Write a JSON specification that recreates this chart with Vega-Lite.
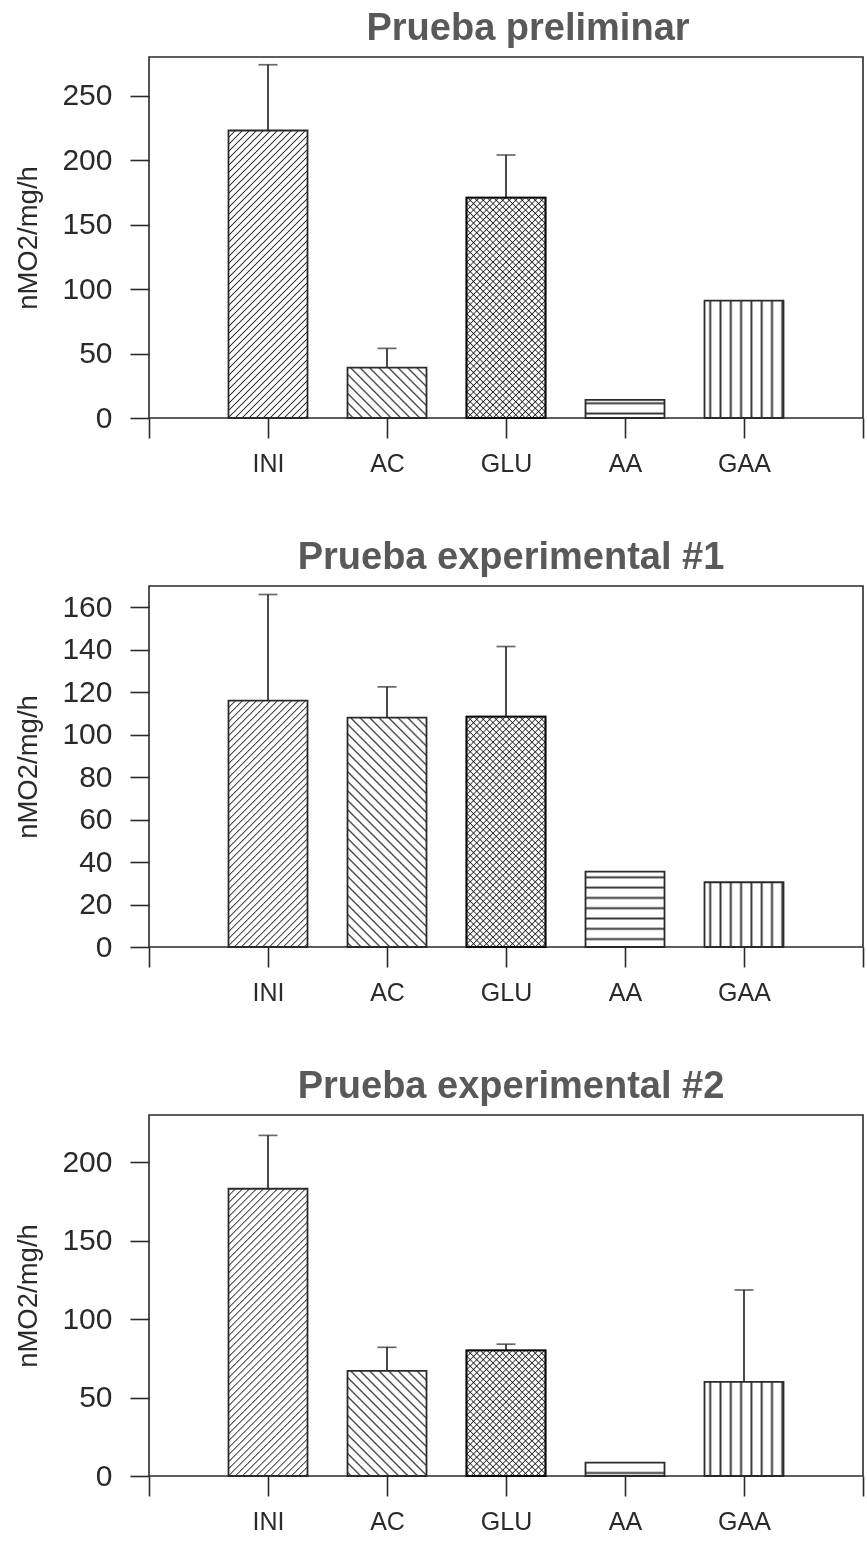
{
  "$schema": "https://vega.github.io/schema/vega-lite/v6.json",
  "background": "white",
  "padding": {"left": 14, "top": 9, "right": 0, "bottom": 0},
  "spacing": 61,
  "params": [
    {
      "name": "hatch",
      "value": [
        {"offset":0,"color":"#fff"},
        {"offset":0.013,"color":"#fff"},{"offset":0.016,"color":"#333"},{"offset":0.019,"color":"#fff"},
        {"offset":0.029,"color":"#fff"},{"offset":0.032,"color":"#333"},{"offset":0.035,"color":"#fff"},
        {"offset":0.045,"color":"#fff"},{"offset":0.048,"color":"#333"},{"offset":0.051,"color":"#fff"},
        {"offset":0.061,"color":"#fff"},{"offset":0.064,"color":"#333"},{"offset":0.067,"color":"#fff"},
        {"offset":0.077,"color":"#fff"},{"offset":0.080,"color":"#333"},{"offset":0.083,"color":"#fff"},
        {"offset":0.093,"color":"#fff"},{"offset":0.096,"color":"#333"},{"offset":0.099,"color":"#fff"},
        {"offset":0.109,"color":"#fff"},{"offset":0.112,"color":"#333"},{"offset":0.115,"color":"#fff"},
        {"offset":0.125,"color":"#fff"},{"offset":0.128,"color":"#333"},{"offset":0.131,"color":"#fff"},
        {"offset":0.141,"color":"#fff"},{"offset":0.144,"color":"#333"},{"offset":0.147,"color":"#fff"},
        {"offset":0.157,"color":"#fff"},{"offset":0.160,"color":"#333"},{"offset":0.163,"color":"#fff"},
        {"offset":0.173,"color":"#fff"},{"offset":0.176,"color":"#333"},{"offset":0.179,"color":"#fff"},
        {"offset":0.189,"color":"#fff"},{"offset":0.192,"color":"#333"},{"offset":0.195,"color":"#fff"},
        {"offset":0.205,"color":"#fff"},{"offset":0.208,"color":"#333"},{"offset":0.211,"color":"#fff"},
        {"offset":0.221,"color":"#fff"},{"offset":0.224,"color":"#333"},{"offset":0.227,"color":"#fff"},
        {"offset":0.237,"color":"#fff"},{"offset":0.240,"color":"#333"},{"offset":0.243,"color":"#fff"},
        {"offset":0.253,"color":"#fff"},{"offset":0.256,"color":"#333"},{"offset":0.259,"color":"#fff"},
        {"offset":0.269,"color":"#fff"},{"offset":0.272,"color":"#333"},{"offset":0.275,"color":"#fff"},
        {"offset":0.285,"color":"#fff"},{"offset":0.288,"color":"#333"},{"offset":0.291,"color":"#fff"},
        {"offset":0.301,"color":"#fff"},{"offset":0.304,"color":"#333"},{"offset":0.307,"color":"#fff"},
        {"offset":0.317,"color":"#fff"},{"offset":0.320,"color":"#333"},{"offset":0.323,"color":"#fff"},
        {"offset":0.333,"color":"#fff"},{"offset":0.336,"color":"#333"},{"offset":0.339,"color":"#fff"},
        {"offset":0.349,"color":"#fff"},{"offset":0.352,"color":"#333"},{"offset":0.355,"color":"#fff"},
        {"offset":0.365,"color":"#fff"},{"offset":0.368,"color":"#333"},{"offset":0.371,"color":"#fff"},
        {"offset":0.381,"color":"#fff"},{"offset":0.384,"color":"#333"},{"offset":0.387,"color":"#fff"},
        {"offset":0.397,"color":"#fff"},{"offset":0.400,"color":"#333"},{"offset":0.403,"color":"#fff"},
        {"offset":0.413,"color":"#fff"},{"offset":0.416,"color":"#333"},{"offset":0.419,"color":"#fff"},
        {"offset":0.429,"color":"#fff"},{"offset":0.432,"color":"#333"},{"offset":0.435,"color":"#fff"},
        {"offset":0.445,"color":"#fff"},{"offset":0.448,"color":"#333"},{"offset":0.451,"color":"#fff"},
        {"offset":0.461,"color":"#fff"},{"offset":0.464,"color":"#333"},{"offset":0.467,"color":"#fff"},
        {"offset":0.477,"color":"#fff"},{"offset":0.480,"color":"#333"},{"offset":0.483,"color":"#fff"},
        {"offset":0.493,"color":"#fff"},{"offset":0.496,"color":"#333"},{"offset":0.499,"color":"#fff"},
        {"offset":0.509,"color":"#fff"},{"offset":0.512,"color":"#333"},{"offset":0.515,"color":"#fff"},
        {"offset":0.525,"color":"#fff"},{"offset":0.528,"color":"#333"},{"offset":0.531,"color":"#fff"},
        {"offset":0.541,"color":"#fff"},{"offset":0.544,"color":"#333"},{"offset":0.547,"color":"#fff"},
        {"offset":0.557,"color":"#fff"},{"offset":0.560,"color":"#333"},{"offset":0.563,"color":"#fff"},
        {"offset":0.573,"color":"#fff"},{"offset":0.576,"color":"#333"},{"offset":0.579,"color":"#fff"},
        {"offset":0.589,"color":"#fff"},{"offset":0.592,"color":"#333"},{"offset":0.595,"color":"#fff"},
        {"offset":0.605,"color":"#fff"},{"offset":0.608,"color":"#333"},{"offset":0.611,"color":"#fff"},
        {"offset":0.621,"color":"#fff"},{"offset":0.624,"color":"#333"},{"offset":0.627,"color":"#fff"},
        {"offset":0.637,"color":"#fff"},{"offset":0.640,"color":"#333"},{"offset":0.643,"color":"#fff"},
        {"offset":0.653,"color":"#fff"},{"offset":0.656,"color":"#333"},{"offset":0.659,"color":"#fff"},
        {"offset":0.669,"color":"#fff"},{"offset":0.672,"color":"#333"},{"offset":0.675,"color":"#fff"},
        {"offset":0.685,"color":"#fff"},{"offset":0.688,"color":"#333"},{"offset":0.691,"color":"#fff"},
        {"offset":0.701,"color":"#fff"},{"offset":0.704,"color":"#333"},{"offset":0.707,"color":"#fff"},
        {"offset":0.717,"color":"#fff"},{"offset":0.720,"color":"#333"},{"offset":0.723,"color":"#fff"},
        {"offset":0.733,"color":"#fff"},{"offset":0.736,"color":"#333"},{"offset":0.739,"color":"#fff"},
        {"offset":0.749,"color":"#fff"},{"offset":0.752,"color":"#333"},{"offset":0.755,"color":"#fff"},
        {"offset":0.765,"color":"#fff"},{"offset":0.768,"color":"#333"},{"offset":0.771,"color":"#fff"},
        {"offset":0.781,"color":"#fff"},{"offset":0.784,"color":"#333"},{"offset":0.787,"color":"#fff"},
        {"offset":0.797,"color":"#fff"},{"offset":0.800,"color":"#333"},{"offset":0.803,"color":"#fff"},
        {"offset":0.813,"color":"#fff"},{"offset":0.816,"color":"#333"},{"offset":0.819,"color":"#fff"},
        {"offset":0.829,"color":"#fff"},{"offset":0.832,"color":"#333"},{"offset":0.835,"color":"#fff"},
        {"offset":0.845,"color":"#fff"},{"offset":0.848,"color":"#333"},{"offset":0.851,"color":"#fff"},
        {"offset":0.861,"color":"#fff"},{"offset":0.864,"color":"#333"},{"offset":0.867,"color":"#fff"},
        {"offset":0.877,"color":"#fff"},{"offset":0.880,"color":"#333"},{"offset":0.883,"color":"#fff"},
        {"offset":0.893,"color":"#fff"},{"offset":0.896,"color":"#333"},{"offset":0.899,"color":"#fff"},
        {"offset":0.909,"color":"#fff"},{"offset":0.912,"color":"#333"},{"offset":0.915,"color":"#fff"},
        {"offset":0.925,"color":"#fff"},{"offset":0.928,"color":"#333"},{"offset":0.931,"color":"#fff"},
        {"offset":0.941,"color":"#fff"},{"offset":0.944,"color":"#333"},{"offset":0.947,"color":"#fff"},
        {"offset":0.957,"color":"#fff"},{"offset":0.960,"color":"#333"},{"offset":0.963,"color":"#fff"},
        {"offset":0.973,"color":"#fff"},{"offset":0.976,"color":"#333"},{"offset":0.979,"color":"#fff"},
        {"offset":0.989,"color":"#fff"},{"offset":0.992,"color":"#333"},{"offset":0.995,"color":"#fff"},
        {"offset":1,"color":"#fff"}
      ]
    }
  ],
  "datasets": {
    "preliminar": [
      {"cat": "INI", "mean": 223, "sd": 51},
      {"cat": "AC", "mean": 39, "sd": 15},
      {"cat": "GLU", "mean": 171, "sd": 33},
      {"cat": "AA", "mean": 14, "sd": null},
      {"cat": "GAA", "mean": 91, "sd": null}
    ],
    "exp1": [
      {"cat": "INI", "mean": 116, "sd": 50},
      {"cat": "AC", "mean": 108, "sd": 14.5},
      {"cat": "GLU", "mean": 108.5, "sd": 33},
      {"cat": "AA", "mean": 35.5, "sd": null},
      {"cat": "GAA", "mean": 30.5, "sd": null}
    ],
    "exp2": [
      {"cat": "INI", "mean": 183, "sd": 34},
      {"cat": "AC", "mean": 67, "sd": 15},
      {"cat": "GLU", "mean": 80, "sd": 4},
      {"cat": "AA", "mean": 8.5, "sd": null},
      {"cat": "GAA", "mean": 60, "sd": 58.5}
    ]
  },
  "config": {
    "font": "Liberation Sans",
    "view": {"stroke": "#2a2a2a", "strokeWidth": 1.6},
    "title": {"font": "Liberation Sans", "fontSize": 38, "fontWeight": "bold", "color": "#595959", "anchor": "middle", "baseline": "alphabetic", "offset": 9},
    "axis": {"domain": false, "grid": false, "tickColor": "#2a2a2a", "tickWidth": 1.6, "labelColor": "#2a2a2a", "labelFont": "Liberation Sans", "titleFont": "Liberation Sans", "titleColor": "#2a2a2a", "titleFontWeight": "normal"},
    "axisX": {"tickSize": 20, "labelFontSize": 25, "labelPadding": 13, "labelAngle": 0},
    "axisY": {"tickSize": 19, "labelFontSize": 30, "labelPadding": 18, "titleFontSize": 27.5, "titlePadding": 19}
  },
  "vconcat": [
    {
      "title": {"text": "Prueba preliminar", "dx": 22},
      "width": 714,
      "height": 361,
      "data": {"name": "preliminar"},
      "encoding": {
        "x": {"field": "cat", "type": "nominal", "sort": null, "scale": {"type": "point", "domain": ["", "INI", "AC", "GLU", "AA", "GAA", " "], "padding": 0}, "axis": {"title": null}},
        "y": {"field": "mean", "type": "quantitative", "scale": {"domain": [0, 280], "nice": false}, "axis": {"values": [0, 50, 100, 150, 200, 250], "title": "nMO2/mg/h"}}
      },
      "layer": [
        {
          "transform": [{"filter": "isValid(datum.sd)"}],
          "mark": {"type": "errorbar", "ticks": true, "size": 19, "thickness": 1.7, "color": "#2a2a2a"},
          "encoding": {"yError": {"field": "sd"}}
        },
        {
          "mark": {"type": "bar", "width": 79, "stroke": "#2a2a2a", "strokeWidth": 1.8},
          "encoding": {
            "fill": {
              "condition": [
                {"test": "datum.cat === 'INI'", "value": {"expr": "{gradient: 'linear', x1: 0, y1: 0, x2: 0.3888, y2: 1.4149, stops: hatch}"}},
                {"test": "datum.cat === 'AC'", "value": {"expr": "{gradient: 'linear', x1: 1, y1: 0, x2: -4.348, y2: 3.405, stops: hatch}"}},
                {"test": "datum.cat === 'GLU'", "value": {"expr": "{gradient: 'linear', x1: 0, y1: 0, x2: 0.585, y2: 1.6328, stops: hatch}"}},
                {"test": "datum.cat === 'AA'", "value": {"expr": "{gradient: 'linear', x1: 0, y1: -0.388, x2: 0, y2: 35.27, stops: hatch}"}},
                {"test": "datum.cat === 'GAA'", "value": {"expr": "{gradient: 'linear', x1: -0.0582, y1: 0, x2: 8.091, y2: 0, stops: hatch}"}}
              ],
              "value": "#ffffff"
            }
          }
        },
        {
          "transform": [{"filter": "datum.cat === 'GLU'"}],
          "mark": {"type": "bar", "width": 79, "stroke": "#2a2a2a", "strokeWidth": 1.8, "blend": "multiply", "fill": {"expr": "{gradient: 'linear', x1: 1, y1: 0, x2: 0.415, y2: 1.6328, stops: hatch}"}}
        }
      ]
    },
    {
      "title": {"text": "Prueba experimental #1", "dx": 5},
      "width": 714,
      "height": 361,
      "data": {"name": "exp1"},
      "encoding": {
        "x": {"field": "cat", "type": "nominal", "sort": null, "scale": {"type": "point", "domain": ["", "INI", "AC", "GLU", "AA", "GAA", " "], "padding": 0}, "axis": {"title": null}},
        "y": {"field": "mean", "type": "quantitative", "scale": {"domain": [0, 170], "nice": false}, "axis": {"values": [0, 20, 40, 60, 80, 100, 120, 140, 160], "title": "nMO2/mg/h"}}
      },
      "layer": [
        {
          "transform": [{"filter": "isValid(datum.sd)"}],
          "mark": {"type": "errorbar", "ticks": true, "size": 19, "thickness": 1.7, "color": "#2a2a2a"},
          "encoding": {"yError": {"field": "sd"}}
        },
        {
          "mark": {"type": "bar", "width": 79, "stroke": "#2a2a2a", "strokeWidth": 1.8},
          "encoding": {
            "fill": {
              "condition": [
                {"test": "datum.cat === 'INI'", "value": {"expr": "{gradient: 'linear', x1: 0, y1: 0, x2: 0.5166, y2: 1.6106, stops: hatch}"}},
                {"test": "datum.cat === 'AC'", "value": {"expr": "{gradient: 'linear', x1: 1, y1: 0, x2: 0.2025, y2: 2.3147, stops: hatch}"}},
                {"test": "datum.cat === 'GLU'", "value": {"expr": "{gradient: 'linear', x1: 0, y1: 0, x2: 0.541, y2: 1.5777, stops: hatch}"}},
                {"test": "datum.cat === 'AA'", "value": {"expr": "{gradient: 'linear', x1: 0, y1: -0.061, x2: 0, y2: 8.477, stops: hatch}"}},
                {"test": "datum.cat === 'GAA'", "value": {"expr": "{gradient: 'linear', x1: -0.0582, y1: 0, x2: 8.091, y2: 0, stops: hatch}"}}
              ],
              "value": "#ffffff"
            }
          }
        },
        {
          "transform": [{"filter": "datum.cat === 'GLU'"}],
          "mark": {"type": "bar", "width": 79, "stroke": "#2a2a2a", "strokeWidth": 1.8, "blend": "multiply", "fill": {"expr": "{gradient: 'linear', x1: 1, y1: 0, x2: 0.459, y2: 1.5777, stops: hatch}"}}
        }
      ]
    },
    {
      "title": {"text": "Prueba experimental #2", "dx": 5},
      "width": 714,
      "height": 361,
      "data": {"name": "exp2"},
      "encoding": {
        "x": {"field": "cat", "type": "nominal", "sort": null, "scale": {"type": "point", "domain": ["", "INI", "AC", "GLU", "AA", "GAA", " "], "padding": 0}, "axis": {"title": null}},
        "y": {"field": "mean", "type": "quantitative", "scale": {"domain": [0, 230], "nice": false}, "axis": {"values": [0, 50, 100, 150, 200], "title": "nMO2/mg/h"}}
      },
      "layer": [
        {
          "transform": [{"filter": "isValid(datum.sd)"}],
          "mark": {"type": "errorbar", "ticks": true, "size": 19, "thickness": 1.7, "color": "#2a2a2a"},
          "encoding": {"yError": {"field": "sd"}}
        },
        {
          "mark": {"type": "bar", "width": 79, "stroke": "#2a2a2a", "strokeWidth": 1.8},
          "encoding": {
            "fill": {
              "condition": [
                {"test": "datum.cat === 'INI'", "value": {"expr": "{gradient: 'linear', x1: 0, y1: 0, x2: 0.3895, y2: 1.4162, stops: hatch}"}},
                {"test": "datum.cat === 'AC'", "value": {"expr": "{gradient: 'linear', x1: 1, y1: 0, x2: -1.710, y2: 3.609, stops: hatch}"}},
                {"test": "datum.cat === 'GLU'", "value": {"expr": "{gradient: 'linear', x1: 0, y1: 0, x2: 1.4578, y2: 2.3176, stops: hatch}"}},
                {"test": "datum.cat === 'AA'", "value": {"expr": "{gradient: 'linear', x1: 0, y1: 0, x2: 0, y2: 48.4, stops: hatch}"}},
                {"test": "datum.cat === 'GAA'", "value": {"expr": "{gradient: 'linear', x1: -0.0582, y1: 0, x2: 8.091, y2: 0, stops: hatch}"}}
              ],
              "value": "#ffffff"
            }
          }
        },
        {
          "transform": [{"filter": "datum.cat === 'GLU'"}],
          "mark": {"type": "bar", "width": 79, "stroke": "#2a2a2a", "strokeWidth": 1.8, "blend": "multiply", "fill": {"expr": "{gradient: 'linear', x1: 1, y1: 0, x2: -0.4578, y2: 2.3176, stops: hatch}"}}
        }
      ]
    }
  ]
}
